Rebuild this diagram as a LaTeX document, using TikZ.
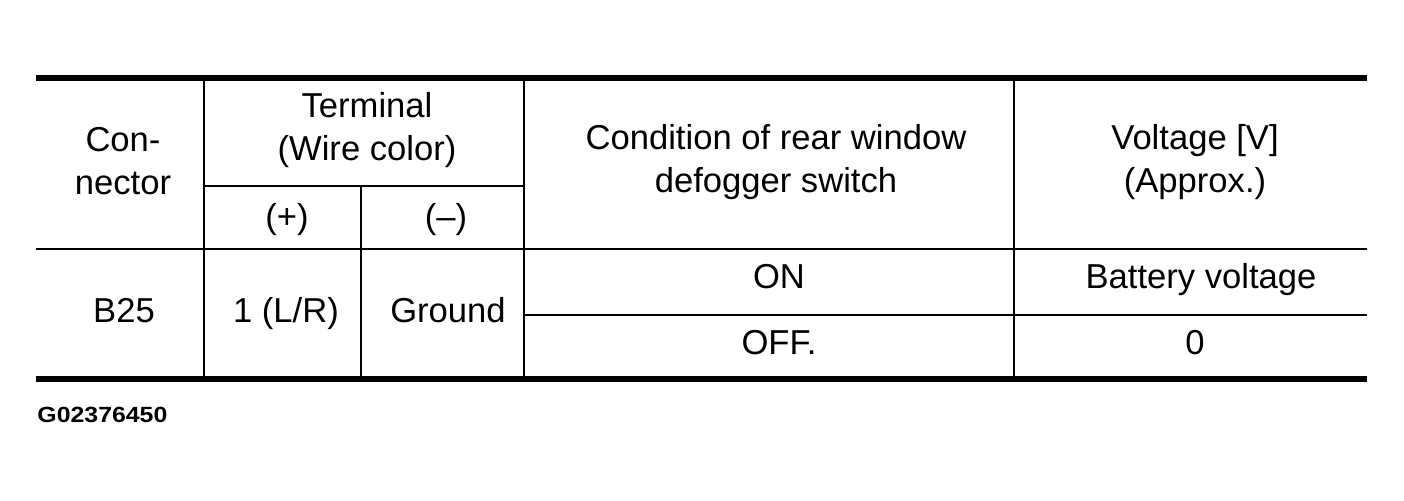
\documentclass[tikz,border=0pt]{standalone}
\usepackage{fontspec}
\setmainfont{Liberation Sans}
\begin{document}
\begin{tikzpicture}[x=0.5pt,y=-0.5pt,
  txt/.style={font=\fontsize{17.3}{21.5}\selectfont, align=center, inner sep=0pt, anchor=base},
  thin/.style={line width=1pt},
  thick/.style={line width=3pt},
  foot/.style={font=\fontsize{11}{13}\selectfont\bfseries, inner sep=0pt, anchor=base west, xscale=1.13}]
\useasboundingbox (0,0) rectangle (1404,501);
% rules
\draw[thick] (36,78) -- (1367,78);
\draw[thick] (36,379) -- (1367,379);
\draw[thin] (36,249) -- (1367,249);
\draw[thin] (204,186) -- (524,186);
\draw[thin] (524,315) -- (1367,315);
\draw[thin] (204,78) -- (204,379);
\draw[thin] (361,186) -- (361,379);
\draw[thin] (524,78) -- (524,379);
\draw[thin] (1014,78) -- (1014,379);
% header (base anchor = last line baseline)
\node[txt] (hconn) at (123,195) {Con-\\nector};
\node[txt] (hterm) at (367,161) {Terminal\\(Wire color)};
\node[txt] (hplus) at (287,229) {(+)};
\node[txt] (hminus) at (446,229) {(–)};
\node[txt] (hcond) at (776,193) {Condition of rear window\\defogger switch};
\node[txt] (hvolt) at (1195,193) {Voltage [V]\\(Approx.)};
% body
\node[txt] (b25) at (124,323) {B25};
\node[txt] (pos) at (286,323) {1 (L/R)};
\node[txt] (gnd) at (448,323) {Ground};
\node[txt] (on) at (779,289) {ON};
\node[txt] (off) at (779,355) {OFF.};
\node[txt] (batt) at (1201,289) {Battery voltage};
\node[txt] (zero) at (1195,355) {0};
\node[foot] (code) at (37,423) {G02376450};
\end{tikzpicture}
\end{document}
